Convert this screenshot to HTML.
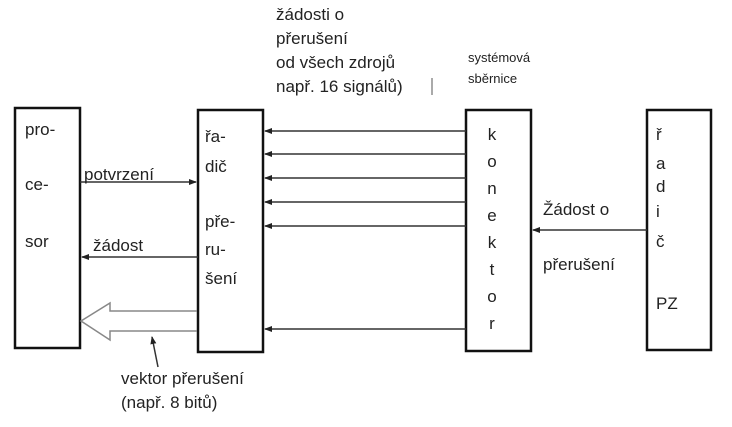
<!DOCTYPE html>
<html><head><meta charset="utf-8"><style>
body{margin:0;background:#fff;}
svg text{font-family:"Liberation Sans",sans-serif;fill:#222;}
</style></head><body>
<svg width="732" height="422" xmlns="http://www.w3.org/2000/svg">
<defs><marker id="a" markerWidth="8" markerHeight="8" refX="7" refY="4" orient="auto" markerUnits="userSpaceOnUse"><path d="M0,1 L8,4 L0,7z" fill="#222"/></marker></defs>
<g fill="none" stroke="#111" stroke-width="2.5">
<rect x="15" y="108" width="65" height="240"/>
<rect x="198" y="110" width="65" height="242"/>
<rect x="466" y="110" width="65" height="241"/>
<rect x="647" y="110" width="64" height="240"/>
</g>
<g stroke="#333" stroke-width="1.5" marker-end="url(#a)">
<line x1="466" y1="131" x2="265" y2="131"/>
<line x1="466" y1="154" x2="265" y2="154"/>
<line x1="466" y1="178" x2="265" y2="178"/>
<line x1="466" y1="202" x2="265" y2="202"/>
<line x1="466" y1="226" x2="265" y2="226"/>
<line x1="466" y1="329" x2="265" y2="329"/>
<line x1="80" y1="182" x2="196" y2="182"/>
<line x1="198" y1="257" x2="82" y2="257"/>
<line x1="647" y1="230" x2="533" y2="230"/>
<line x1="158" y1="367" x2="152" y2="337"/>
</g>
<path d="M197,311 L110,311 L110,303 L81,321 L110,340 L110,331 L197,331" fill="none" stroke="#888" stroke-width="1.5"/>
<g font-size="17">
<text x="25" y="135">pro-</text><text x="25" y="190">ce-</text><text x="25" y="247">sor</text>
<text x="205" y="142">ř‌a-</text><text x="205" y="172">dič</text>
<text x="205" y="227">pře-</text><text x="205" y="255">ru-</text><text x="205" y="284">šení</text>
<text x="84" y="180">potvrzení</text>
<text x="93" y="251">žádost</text>
<text x="121" y="384">vektor přerušení</text>
<text x="121" y="408">(např. 8 bitů)</text>
<text x="543" y="215">Žádost o</text>
<text x="543" y="270">přerušení</text>
<text x="276" y="20">žádosti o</text>
<text x="276" y="44">přerušení</text>
<text x="276" y="68">od všech zdrojů</text>
<text x="276" y="92">např. 16 signálů)</text>
</g>
<line x1="432" y1="78" x2="432" y2="95" stroke="#555" stroke-width="1"/>
<g font-size="17" text-anchor="middle">
<text x="492" y="140">k</text><text x="492" y="167">o</text><text x="492" y="194">n</text><text x="492" y="221">e</text><text x="492" y="248">k</text><text x="492" y="275">t</text><text x="492" y="302">o</text><text x="492" y="329">r</text>
</g>
<g font-size="17">
<text x="656" y="140">ř</text><text x="656" y="169">a</text><text x="656" y="192">d</text><text x="656" y="217">i</text><text x="656" y="247">č</text><text x="656" y="309">PZ</text>
</g>
<g font-size="13"><text x="468" y="62">systémová</text><text x="468" y="83">sběrnice</text></g>
</svg>
</body></html>
